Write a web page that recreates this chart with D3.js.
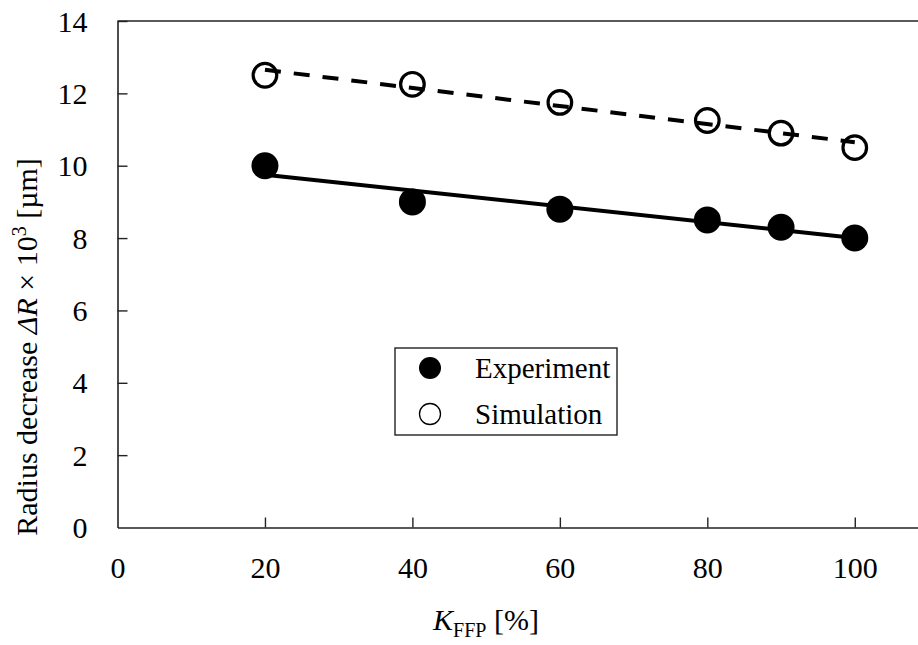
<!DOCTYPE html>
<html>
<head>
<meta charset="utf-8">
<script src="https://cdn.jsdelivr.net/npm/d3@7/dist/d3.min.js"></script>
<style>
  html, body { margin: 0; padding: 0; background: #fff; }
  svg { display: block; font-family: "Liberation Serif", "Times New Roman", serif; }
</style>
</head>
<body>
<svg id="chart" width="918" height="645"></svg>
<script>
// K_FFP levels [%]
const kffp = [20, 40, 60, 80, 90, 100];
// Radius decrease ΔR × 10^3 [µm]
const experiment = [10.0, 9.0, 8.8, 8.5, 8.3, 8.0];
const simulation = [12.5, 12.25, 11.75, 11.25, 10.9, 10.5];
const xTicks = [0, 20, 40, 60, 80, 100];
const yTicks = [0, 2, 4, 6, 8, 10, 12, 14];

const svg = d3.select("#chart");
const plotLeft = 117.5, plotTop = 21, plotBottom = 527.5, plotRight = 928.5;

const x = d3.scaleLinear().domain([0, 110]).range([plotLeft, plotRight]);
const y = d3.scaleLinear().domain([0, 14]).range([plotBottom, plotTop]);

// least-squares trend line over the measured range
function fit(xs, ys) {
  const mx = d3.mean(xs), my = d3.mean(ys);
  const sxy = d3.sum(xs, (v, i) => (v - mx) * (ys[i] - my));
  const sxx = d3.sum(xs, v => (v - mx) ** 2);
  const b = sxy / sxx, a = my - b * mx;
  const x0 = d3.min(xs), x1 = d3.max(xs);
  return [[x0, a + b * x0], [x1, a + b * x1]];
}

// axes
const gx = svg.append("g").attr("transform", `translate(0,${plotBottom})`)
  .call(d3.axisBottom(x).tickValues(xTicks).tickSizeInner(-10).tickSizeOuter(0).tickPadding(29));
const gy = svg.append("g").attr("transform", `translate(${plotLeft},0)`)
  .call(d3.axisLeft(y).tickValues(yTicks).tickSizeInner(-10).tickSizeOuter(0).tickPadding(30));
[gx, gy].forEach(g => {
  g.select(".domain").attr("stroke", "#222").attr("stroke-width", 1.6);
  g.selectAll(".tick line").attr("stroke", "#222").attr("stroke-width", 1.4);
  g.selectAll(".tick text").attr("fill", "#000").style("font-size", "30px")
    .style("font-family", "'Liberation Serif', 'Times New Roman', serif");
});
gy.selectAll(".tick text").attr("dy", "0.34em");
gy.selectAll(".tick").filter(d => d === 0).select("line").remove();
gx.selectAll(".tick").filter(d => d === 0).select("line").remove();

// top frame line
svg.append("line")
  .attr("x1", plotLeft).attr("x2", plotRight).attr("y1", plotTop).attr("y2", plotTop)
  .attr("stroke", "#222").attr("stroke-width", 1.6);

const line = d3.line().x(d => x(d[0])).y(d => y(d[1]));

// simulation: open circles, dashed fit
svg.selectAll("circle.sim").data(kffp).join("circle")
  .attr("class", "sim")
  .attr("cx", d => x(d)).attr("cy", (d, i) => y(simulation[i]))
  .attr("r", 11.8).attr("fill", "#fff").attr("stroke", "#000").attr("stroke-width", 3.2);
svg.append("path").datum(fit(kffp, simulation)).attr("d", line)
  .attr("fill", "none").attr("stroke", "#000").attr("stroke-width", 4)
  .attr("stroke-dasharray", "16,13");

// experiment: filled circles, solid fit
svg.append("path").datum(fit(kffp, experiment)).attr("d", line)
  .attr("fill", "none").attr("stroke", "#000").attr("stroke-width", 4);
svg.selectAll("circle.exp").data(kffp).join("circle")
  .attr("class", "exp")
  .attr("cx", d => x(d)).attr("cy", (d, i) => y(experiment[i]))
  .attr("r", 13.5).attr("fill", "#000");

// legend
const lg = svg.append("g");
lg.append("rect").attr("x", 395).attr("y", 348).attr("width", 222).attr("height", 87)
  .attr("fill", "#fff").attr("stroke", "#222").attr("stroke-width", 1.4);
lg.append("circle").attr("cx", 430).attr("cy", 368).attr("r", 11).attr("fill", "#000");
lg.append("circle").attr("cx", 430).attr("cy", 414).attr("r", 10.5)
  .attr("fill", "#fff").attr("stroke", "#000").attr("stroke-width", 1.3);
lg.append("text").attr("x", 475).attr("y", 378).style("font-size", "29px").text("Experiment");
lg.append("text").attr("x", 475).attr("y", 424).style("font-size", "29px").text("Simulation");

// axis titles
const xt = svg.append("text").attr("x", 486).attr("y", 630).attr("text-anchor", "middle")
  .style("font-size", "30px");
xt.append("tspan").style("font-style", "italic").text("K");
xt.append("tspan").attr("dy", 7).style("font-size", "20px").text("FFP");
xt.append("tspan").attr("dy", -7).text(" [%]");

const yt = svg.append("text").attr("transform", "translate(37,347) rotate(-90)")
  .attr("text-anchor", "middle").style("font-size", "30px");
yt.append("tspan").text("Radius decrease ");
yt.append("tspan").style("font-style", "italic").text("ΔR");
yt.append("tspan").text(" × 10");
yt.append("tspan").attr("dy", -11).style("font-size", "20px").text("3");
yt.append("tspan").attr("dy", 11).text(" [µm]");
</script>
</body>
</html>
